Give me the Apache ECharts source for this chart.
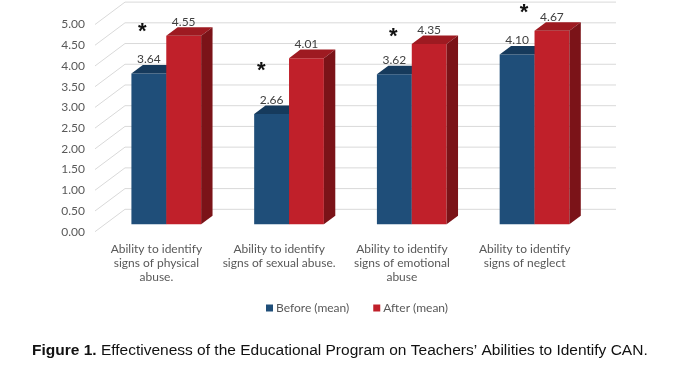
<!DOCTYPE html>
<html>
<head>
<meta charset="utf-8">
<script src="https://cdn.jsdelivr.net/npm/echarts@6/dist/echarts.min.js"></script>
<style>
  html, body { margin: 0; padding: 0; background: #fff; }
  #chart { width: 684px; height: 377px; }
</style>
</head>
<body>
<div id="chart"></div>
<script>
// data
var categories = [
  "Ability to identify\nsigns of physical\nabuse.",
  "Ability to identify\nsigns of sexual abuse.",
  "Ability to identify\nsigns of emotional\nabuse",
  "Ability to identify\nsigns of neglect"
];
var seriesNames = ["Before (mean)", "After (mean)"];
var before = [3.64, 2.66, 3.62, 4.10];
var after = [4.55, 4.01, 4.35, 4.67];
var yTicks = [0, 0.5, 1, 1.5, 2, 2.5, 3, 3.5, 4, 4.5, 5];
// asterisks (significance marks): height on the value scale, shift in category widths
var starLevel = [4.73, 3.79, 4.61, 5.2];
var starShift = [-0.196, -0.227, -0.151, -0.086];

// fake 3D: depth offset of the back wall in px, bars sit between T0 and T1
var DX = 30, DY = -22.4;
var T0 = 0.33, T1 = 0.71;
var BAR = 0.284; // bar width as part of category band

var FONT = "Lato";
var AX = "#595959";

function barRender(side, front, topC, sideC) {
  return function (params, api) {
    var i = api.value(0), v = api.value(1);
    var band = api.size([1, 0])[0];
    var w = band * BAR;
    var base = api.coord([i, 0]);
    var top = api.coord([i, v]);
    var x0 = base[0] + (side === 0 ? -w : 0) + DX * T0;
    var x1 = x0 + w;
    var yb = base[1] + DY * T0, yt = top[1] + DY * T0;
    var dx = DX * (T1 - T0), dy = DY * (T1 - T0);
    return {
      type: "group",
      children: [
        { type: "polygon", shape: { points: [[x0, yb], [x1, yb], [x1, yt], [x0, yt]] }, style: { fill: front } },
        { type: "polygon", shape: { points: [[x0, yt], [x1, yt], [x1 + dx, yt + dy], [x0 + dx, yt + dy]] }, style: { fill: topC } },
        { type: "polygon", shape: { points: [[x1, yt], [x1 + dx, yt + dy], [x1 + dx, yb + dy], [x1, yb]] }, style: { fill: sideC } },
        { type: "text", style: { x: (x0 + x1) / 2, y: yt - 14, text: v.toFixed(2), fill: "#404040",
            font: "12px " + FONT, align: "center", verticalAlign: "middle" } }
      ]
    };
  };
}

var chart = echarts.init(document.getElementById("chart"));
chart.setOption({
  animation: false,
  title: {
    text: "{b|Figure 1.} Effectiveness of the Educational Program on Teachers\u2019 Abilities to Identify CAN.",
    left: 32,
    top: 343,
    padding: 0,
    textStyle: {
      fontFamily: "Liberation Sans", fontSize: 15.5, fontWeight: "normal", color: "#111",
      rich: { b: { fontFamily: "Liberation Sans", fontSize: 15.5, fontWeight: "bold", color: "#111" } }
    }
  },
  legend: {
    data: seriesNames,
    left: 266,
    top: 302,
    padding: 0,
    icon: "rect",
    itemWidth: 7,
    itemHeight: 7,
    itemGap: 24,
    textStyle: { fontFamily: FONT, fontSize: 12, color: AX, padding: [0, 0, 0, -2] }
  },
  grid: { left: 95, top: 24.5, width: 491, height: 207.2 },
  xAxis: {
    type: "category",
    data: categories,
    axisLine: { show: false },
    axisTick: { show: false },
    axisLabel: { color: AX, fontFamily: FONT, fontSize: 12, lineHeight: 14.2, margin: 10, interval: 0 }
  },
  yAxis: {
    type: "value",
    min: 0,
    max: 5,
    interval: 0.5,
    axisLine: { show: false },
    axisTick: { show: false },
    splitLine: { show: false },
    axisLabel: { color: AX, fontFamily: FONT, fontSize: 12, margin: 10, formatter: function (v) { return v.toFixed(2); } }
  },
  series: [
    {
      type: "custom",
      silent: true,
      z: 1,
      clip: false,
      data: yTicks.map(function (v) { return [0, v]; }),
      renderItem: function (params, api) {
        var cs = params.coordSys;
        var y = api.coord([0, api.value(1)])[1];
        return {
          type: "polyline",
          shape: { points: [[cs.x, y], [cs.x + DX, y + DY], [cs.x + cs.width + DX, y + DY]] },
          style: { stroke: "#d9d9d9", lineWidth: 1, fill: null }
        };
      }
    },
    {
      name: seriesNames[0],
      type: "custom",
      z: 3,
      clip: false,
      itemStyle: { color: "#1f4e79" },
      data: before.map(function (v, i) { return [i, v]; }),
      renderItem: barRender(0, "#1f4e79", "#163a5c", "#163a5c")
    },
    {
      name: seriesNames[1],
      type: "custom",
      z: 4,
      clip: false,
      itemStyle: { color: "#c0202a" },
      data: after.map(function (v, i) { return [i, v]; }),
      renderItem: barRender(1, "#c0202a", "#9e1a21", "#7b1318")
    },
    {
      type: "custom",
      silent: true,
      z: 5,
      clip: false,
      data: starLevel.map(function (v, i) { return [i, v]; }),
      renderItem: function (params, api) {
        var i = api.value(0);
        var band = api.size([1, 0])[0];
        var p = api.coord([i, api.value(1)]);
        return {
          type: "text",
          style: { x: p[0] + starShift[i] * band + DX * T0, y: p[1] + DY * T0 + 4, text: "*",
                   fill: "#111", font: "bold 22px Liberation Sans", align: "center", verticalAlign: "middle" }
        };
      }
    }
  ]
});
</script>
</body>
</html>
